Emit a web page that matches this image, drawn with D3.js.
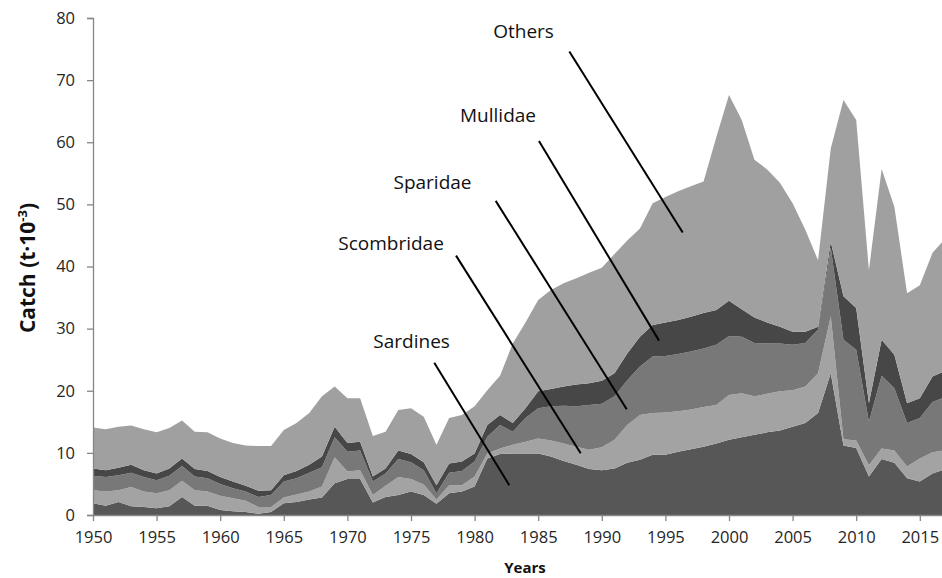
<!DOCTYPE html>
<html>
<head>
<meta charset="utf-8">
<script src="https://cdn.jsdelivr.net/npm/d3@7"></script>
<style>
  html, body { margin: 0; padding: 0; background: #fff; }
  svg { display: block; font-family: "Open Sans", "Noto Sans", sans-serif; }
</style>
</head>
<body>
<div id="chart"></div>
<script>
var years = d3.range(1950, 2018);

var sardines = [1.9, 1.5, 2.1, 1.4, 1.3, 1.1, 1.4, 2.9, 1.5, 1.5,
  0.8, 0.6, 0.5, 0.2, 0.5, 1.9, 2.1, 2.5, 2.8, 5.1,
  5.8, 5.8, 2.0, 2.9, 3.2, 3.8, 3.2, 1.8, 3.5, 3.8,
  4.6, 9.1, 9.8, 9.9, 9.9, 9.9, 9.4, 8.7, 8.1, 7.4,
  7.2, 7.5, 8.4, 8.9, 9.7, 9.7, 10.2, 10.6, 11.0, 11.5,
  12.1, 12.5, 12.9, 13.3, 13.6, 14.2, 14.8, 16.4, 22.8, 11.2,
  10.8, 6.2, 9.0, 8.4, 5.9, 5.4, 6.7, 7.4];

var scombridae = [2.1, 2.3, 1.9, 3.1, 2.5, 2.4, 2.6, 2.6, 2.5, 2.3,
  2.3, 2.1, 1.8, 1.1, 0.8, 0.9, 1.2, 1.3, 1.8, 4.2,
  1.2, 1.4, 1.2, 1.8, 2.9, 2.0, 1.7, 0.7, 1.3, 1.0,
  1.6, 0.8, 0.9, 1.4, 1.9, 2.4, 2.6, 2.8, 2.9, 3.1,
  3.7, 4.6, 6.1, 7.2, 6.7, 6.8, 6.5, 6.4, 6.4, 6.2,
  7.2, 7.1, 6.2, 6.2, 6.3, 5.9, 5.9, 6.4, 9.2, 1.0,
  1.2, 1.8, 1.7, 2.0, 1.9, 3.7, 3.4, 3.0];

var sparidae = [2.3, 2.3, 2.4, 2.3, 2.3, 2.1, 2.3, 2.4, 2.2, 2.1,
  1.9, 1.6, 1.5, 1.6, 1.9, 2.6, 2.6, 3.0, 3.1, 3.2,
  3.2, 3.2, 2.2, 2.0, 2.9, 2.7, 2.3, 1.0, 2.0, 2.3,
  2.4, 2.7, 3.8, 2.1, 3.8, 4.9, 5.5, 6.1, 6.5, 7.2,
  7.0, 7.0, 7.2, 7.8, 9.1, 9.1, 9.2, 9.3, 9.4, 9.7,
  9.5, 9.1, 8.6, 8.1, 7.7, 7.3, 7.0, 7.0, 11.0, 16.0,
  14.6, 7.0, 11.7, 10.0, 7.0, 6.5, 8.1, 8.6];

var mullidae = [1.2, 1.1, 1.2, 1.3, 1.1, 1.1, 1.2, 1.2, 1.2, 1.2,
  1.1, 1.1, 0.9, 1.0, 0.8, 1.0, 1.2, 1.3, 1.7, 1.7,
  1.4, 1.4, 0.8, 0.8, 1.4, 1.3, 1.3, 1.3, 1.5, 1.5,
  1.3, 1.9, 1.6, 1.4, 1.6, 2.7, 2.8, 3.1, 3.5, 3.5,
  3.7, 3.7, 4.3, 4.8, 5.1, 5.4, 5.5, 5.6, 5.7, 5.6,
  5.7, 4.4, 4.1, 3.4, 2.7, 2.1, 1.8, 0.5, 1.0, 7.0,
  6.7, 3.0, 5.8, 5.4, 3.2, 3.2, 4.1, 4.2];

var others = [6.6, 6.6, 6.6, 6.3, 6.6, 6.6, 6.5, 6.1, 6.0, 6.2,
  6.2, 6.2, 6.5, 7.2, 7.1, 7.3, 7.7, 8.3, 9.7, 6.5,
  7.2, 7.0, 6.5, 5.9, 6.5, 7.4, 7.3, 6.5, 7.3, 7.5,
  7.6, 5.6, 6.3, 12.8, 13.8, 14.7, 15.9, 16.6, 17.1, 17.8,
  18.2, 19.2, 18.2, 17.4, 19.6, 20.2, 20.7, 21.0, 21.2, 27.8,
  33.1, 30.5, 25.4, 24.6, 23.2, 20.7, 16.4, 10.7, 15.0, 31.6,
  30.3, 21.4, 27.5, 23.8, 17.7, 18.2, 19.9, 21.3];

var seriesNames = ["Sardines", "Scombridae", "Sparidae", "Mullidae", "Others"];
var seriesFill = ["#575757", "#a3a3a3", "#787878", "#474747", "#a0a0a0"];
var xTicks = d3.range(1950, 2016, 5);
var yTicks = d3.range(0, 81, 10);

// label position and leader line, in data units [year, catch]
var labelNames = ["Others", "Mullidae", "Sparidae", "Scombridae", "Sardines"];
var labelAt = [[1983.85, 76.8], [1981.84, 63.3], [1976.69, 52.5], [1973.43, 42.7], [1975.05, 26.9]];
var lineFrom = [[1987.45, 74.6], [1985.06, 60.2], [1981.66, 50.56], [1978.54, 41.75], [1976.83, 24.52]];
var lineTo = [[1996.36, 45.46], [1994.5, 28.07], [1991.96, 17.02], [1988.34, 9.94], [1982.73, 4.78]];

var width = 942, height = 578;
var margin = { top: 18, right: 0, bottom: 63, left: 93 };

var table = years.map(function (y, i) {
  return {
    year: y,
    Sardines: sardines[i],
    Scombridae: scombridae[i],
    Sparidae: sparidae[i],
    Mullidae: mullidae[i],
    Others: others[i]
  };
});

var stacked = d3.stack().keys(seriesNames)(table);

var x = d3.scaleLinear([1950, 2017], [margin.left, margin.left + 67 * 12.72]);
var y = d3.scaleLinear([0, 80], [height - margin.bottom, margin.top]);
var color = d3.scaleOrdinal(seriesNames, seriesFill);

var svg = d3.select("#chart").append("svg").attr("width", width).attr("height", height);

var area = d3.area()
  .x(function (d) { return x(d.data.year); })
  .y0(function (d) { return y(d[0]); })
  .y1(function (d) { return y(d[1]); });

svg.append("g")
  .selectAll("path")
  .data(stacked)
  .join("path")
  .attr("fill", function (d) { return color(d.key); })
  .attr("d", area);

// y axis
var yAxis = svg.append("g")
  .attr("transform", "translate(" + margin.left + ",0)")
  .call(d3.axisLeft(y).tickValues(yTicks).tickSize(6).tickPadding(12));
yAxis.select(".domain").attr("stroke", "#868686").attr("stroke-width", 1.3);
yAxis.selectAll(".tick line").attr("stroke", "#868686").attr("stroke-width", 1.3);
yAxis.selectAll("text")
  .attr("font-family", "'Open Sans', sans-serif")
  .attr("font-size", 16.5)
  .attr("fill", "#262626");

// x axis
var xAxis = svg.append("g")
  .attr("transform", "translate(0," + y(0) + ")")
  .call(d3.axisBottom(x).tickValues(xTicks).tickFormat(d3.format("d")).tickSize(6).tickSizeOuter(0).tickPadding(10));
xAxis.select(".domain").attr("stroke", "#868686").attr("stroke-width", 1.3);
xAxis.selectAll(".tick line").attr("stroke", "#868686").attr("stroke-width", 1.3);
xAxis.selectAll("text")
  .attr("font-family", "'Open Sans', sans-serif")
  .attr("font-size", 16.5)
  .attr("fill", "#262626");

// axis titles
svg.append("text")
  .attr("x", 525)
  .attr("y", 573)
  .attr("text-anchor", "middle")
  .attr("font-weight", "bold")
  .attr("font-size", 15)
  .attr("fill", "#111")
  .text("Years");

var yTitle = svg.append("text")
  .attr("transform", "translate(35," + 268 + ") rotate(-90)")
  .attr("text-anchor", "middle")
  .attr("font-weight", "bold")
  .attr("font-size", 21)
  .attr("fill", "#111");
yTitle.append("tspan").text("Catch (t\u00b710");
yTitle.append("tspan").attr("dy", -8).attr("font-size", 13).text("-3");
yTitle.append("tspan").attr("dy", 8).text(")");

// annotations
var notes = svg.append("g");
notes.selectAll("line")
  .data(labelNames)
  .join("line")
  .attr("x1", function (d, i) { return x(lineFrom[i][0]); })
  .attr("y1", function (d, i) { return y(lineFrom[i][1]); })
  .attr("x2", function (d, i) { return x(lineTo[i][0]); })
  .attr("y2", function (d, i) { return y(lineTo[i][1]); })
  .attr("stroke", "#000")
  .attr("stroke-width", 2);
notes.selectAll("text")
  .data(labelNames)
  .join("text")
  .attr("x", function (d, i) { return x(labelAt[i][0]); })
  .attr("y", function (d, i) { return y(labelAt[i][1]); })
  .attr("text-anchor", "middle")
  .attr("font-size", 19)
  .attr("fill", "#111")
  .text(function (d) { return d; });
</script>
</body>
</html>
